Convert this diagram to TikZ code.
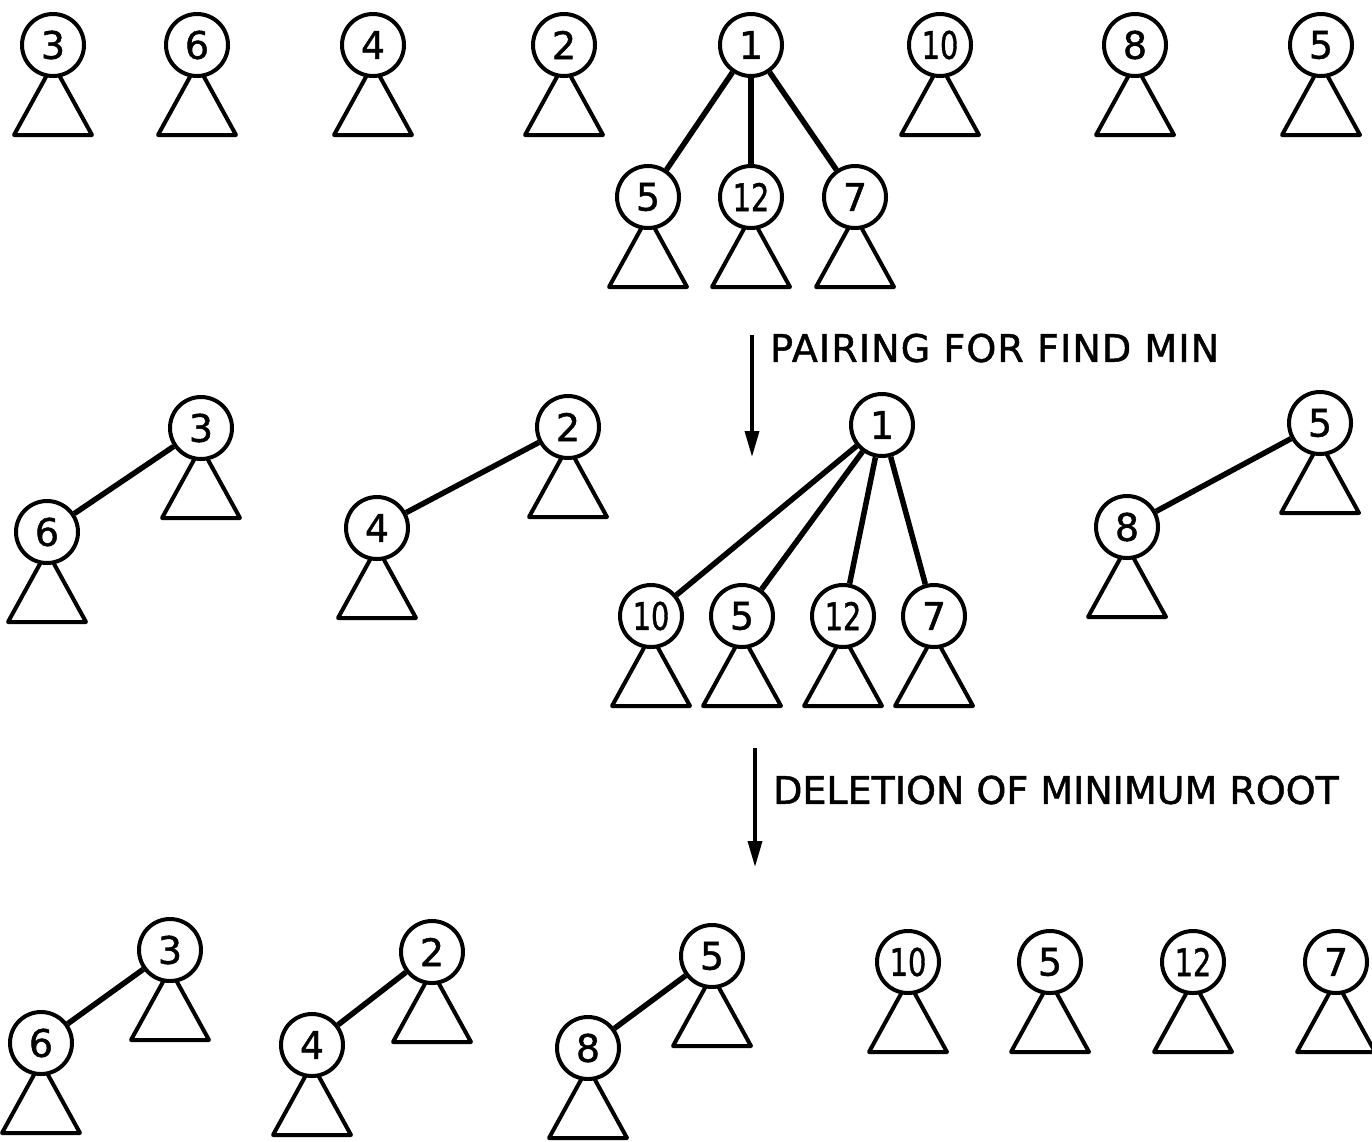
\documentclass[tikz,border=0pt]{standalone}
\usepackage{fontspec}
\usetikzlibrary{arrows.meta}
\newfontfamily\digfont[FakeBold=1.2]{DejaVu Sans}
\newfontfamily\labfont[LetterSpace=3,FakeBold=1.2]{DejaVu Sans}
\newfontfamily\labfontb[FakeBold=1.2]{DejaVu Sans}
\newcommand\nn[1]{\scalebox{0.76}[1]{#1}}
\tikzset{
  hn/.style={circle, draw, line width=4pt, fill=white, minimum size=62pt, inner sep=0pt,
             font=\digfont\fontsize{38}{38}\selectfont},
  tri/.style={line width=4pt, line join=round},
  edge/.style={line width=5.5pt},
  flow/.style={line width=3.5pt, -{Triangle[length=26pt,width=14pt]}},
  lab/.style={anchor=west, inner sep=0pt, font=\labfont\fontsize{38}{38}\selectfont},
  labb/.style={anchor=west, inner sep=0pt, font=\labfontb\fontsize{38}{38}\selectfont}
}
\newcommand\mytri[1]{\draw[tri] (#1.center) ++(-6,30) -- ++(-33,60) -- ++(78,0) -- ++(-33,-60);}
\begin{document}
\begin{tikzpicture}[x=1pt,y=-1pt]
\useasboundingbox (0,0) rectangle (1372,1141);
% Row 1
\node[hn] (a3) at (53,45) {3};
\node[hn] (a6) at (197,45) {6};
\node[hn] (a4) at (373,45) {4};
\node[hn] (a2) at (564,45) {2};
\node[hn] (a1) at (751,45) {1};
\node[hn] (a10) at (940,45) {\nn{10}};
\node[hn] (a8) at (1135,45) {8};
\node[hn] (a5) at (1321,45) {5};
\node[hn] (ac5) at (648,197) {5};
\node[hn] (ac12) at (751,197) {\nn{12}};
\node[hn] (ac7) at (855,197) {7};
\foreach \n in {a3,a6,a4,a2,a10,a8,a5,ac5,ac12,ac7} {\mytri{\n}}
\draw[edge] (a1) -- (ac5);
\draw[edge] (a1) -- (ac12);
\draw[edge] (a1) -- (ac7);
% Arrow 1
\coordinate (f1s) at (752,335);
\coordinate (f1e) at (752,457);
\draw[flow] (f1s) -- (f1e);
\node[lab] (l1) at (770,348) {PAIRING FOR FIND MIN};
% Row 2
\node[hn] (b3) at (201,428) {3};
\node[hn] (b6) at (47,532) {6};
\node[hn] (b2) at (568,427) {2};
\node[hn] (b4) at (377,528) {4};
\node[hn] (b1) at (882,425) {1};
\node[hn] (bc10) at (651,616) {\nn{10}};
\node[hn] (bc5) at (742,616) {5};
\node[hn] (bc12) at (843,616) {\nn{12}};
\node[hn] (bc7) at (934,616) {7};
\node[hn] (b5) at (1320,423) {5};
\node[hn] (b8) at (1127,527) {8};
\foreach \n in {b3,b6,b2,b4,bc10,bc5,bc12,bc7,b5,b8} {\mytri{\n}}
\draw[edge] (b6) -- (b3);
\draw[edge] (b4) -- (b2);
\draw[edge] (b8) -- (b5);
\draw[edge] (b1) -- (bc10);
\draw[edge] (b1) -- (bc5);
\draw[edge] (b1) -- (bc12);
\draw[edge] (b1) -- (bc7);
% Arrow 2
\coordinate (f2s) at (755,748);
\coordinate (f2e) at (755,867);
\draw[flow] (f2s) -- (f2e);
\node[labb] (l2) at (773,790) {DELETION OF MINIMUM ROOT};
% Row 3
\node[hn] (c3) at (170,950) {3};
\node[hn] (c6) at (41,1043) {6};
\node[hn] (c2) at (432,952) {2};
\node[hn] (c4) at (312,1045) {4};
\node[hn] (c5) at (712,956) {5};
\node[hn] (c8) at (588,1048) {8};
\node[hn] (d10) at (908,962) {\nn{10}};
\node[hn] (d5) at (1050,962) {5};
\node[hn] (d12) at (1193,962) {\nn{12}};
\node[hn] (d7) at (1336,962) {7};
\foreach \n in {c3,c6,c2,c4,c5,c8,d10,d5,d12,d7} {\mytri{\n}}
\draw[edge] (c6) -- (c3);
\draw[edge] (c4) -- (c2);
\draw[edge] (c8) -- (c5);
\end{tikzpicture}
\end{document}
